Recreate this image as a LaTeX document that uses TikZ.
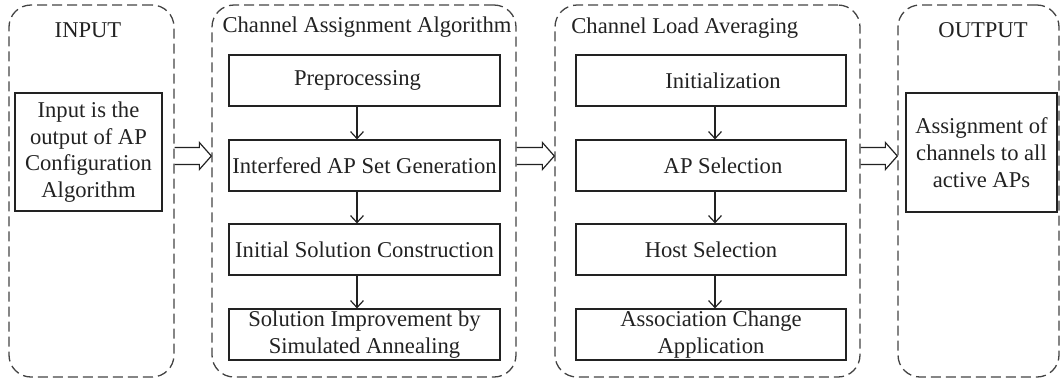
\documentclass[tikz,border=0pt]{standalone}
\usepackage{fontspec}
\setmainfont{Liberation Serif}
\usetikzlibrary{arrows.meta,calc}
\definecolor{ink}{HTML}{222222}
\definecolor{frame}{HTML}{444444}
\begin{document}
\begin{tikzpicture}[x=0.5pt,y=-0.5pt,
  every node/.style={font=\fontsize{11.3}{13.35}\selectfont, text=ink},
  group/.style={draw=frame, line width=0.65pt, dash pattern=on 5pt off 2.5pt,
                rounded corners=11pt, inner sep=0pt, minimum height=186pt},
  stepbox/.style={draw=ink, line width=0.6pt, inner sep=0pt, align=center,
                  minimum height=25.5pt},
  wideA/.style={stepbox, minimum width=135.5pt},
  wideB/.style={stepbox, minimum width=135pt},
  flow/.style={draw=ink, line width=0.6pt, -{Straight Barb[length=3.5pt,width=6.5pt]}},
  hollow/.style={draw=ink, line width=0.6pt, line join=miter},
  title/.style={anchor=base, inner sep=0pt}]
\useasboundingbox (0,0) rectangle (1060,381);

% dashed stage frames
\node[group, minimum width=82.5pt] (inp) at (91.5,191) {};
\node[group, minimum width=152pt]  (caa) at (364,191) {};
\node[group, minimum width=152.5pt] (cla) at (707.5,191) {};
\node[group, minimum width=80.5pt] (out) at (978.5,191) {};

% stage titles
\node[title] (tinp) at (88,37) {INPUT};
\node[title] (tcaa) at (367,32) {Channel Assignment Algorithm};
\node[title, anchor=base west] (tcla) at (571,33) {Channel Load Averaging};
\node[title] (tout) at (983,37) {OUTPUT};

% input and output
\node[stepbox, minimum width=73.5pt, minimum height=59pt] (inbox) at (88.5,152)
  {Input is the\\output of AP\\Configuration\\Algorithm};
\node[stepbox, minimum width=75.5pt, minimum height=59.5pt] (outbox) at (981.5,152.5)
  {Assignment of\\channels to all\\active APs};

% channel assignment steps
\node[wideA] (pre) at (364.5,80.5)  {Preprocessing\hspace*{7pt}};
\node[wideA] (iap) at (364.5,165.5) {Interfered AP Set Generation};
\node[wideA] (isc) at (364.5,249.5) {Initial Solution Construction};
\node[wideA] (sis) at (364.5,334.5) {Solution Improvement by\\Simulated Annealing};

% channel load averaging steps
\node[wideB] (ini) at (711,80.5)  {\hspace*{12pt}Initialization};
\node[wideB] (aps) at (711,165.5) {\hspace*{12pt}AP Selection};
\node[wideB] (hos) at (711,249.5) {Host Selection};
\node[wideB] (aca) at (711,334.5) {Association Change\\Application};

% vertical flow inside each stage
\coordinate (xa) at (357,0);
\coordinate (xb) at (715,0);
\draw[flow] (pre.south -| xa) -- (iap.north -| xa);
\draw[flow] (iap.south -| xa) -- (isc.north -| xa);
\draw[flow] (isc.south -| xa) -- (sis.north -| xa);
\draw[flow] (ini.south -| xb) -- (aps.north -| xb);
\draw[flow] (aps.south -| xb) -- (hos.north -| xb);
\draw[flow] (hos.south -| xb) -- (aca.north -| xb);

% hollow arrows between stages
\coordinate (ya) at (0,156);
\foreach \a/\b in {inp/caa, caa/cla, cla/out}{
  \coordinate (s-\a) at (\a.east |- ya);
  \coordinate (e-\a) at (\b.west |- ya);
  \draw[hollow] ($(s-\a)+(0,-8.5)$) -- ($(e-\a)+(-12,-8.5)$) -- ($(e-\a)+(-12,-13.5)$)
    -- (e-\a) -- ($(e-\a)+(-12,13.5)$) -- ($(e-\a)+(-12,8.5)$) -- ($(s-\a)+(0,8.5)$);
}
\end{tikzpicture}
\end{document}
